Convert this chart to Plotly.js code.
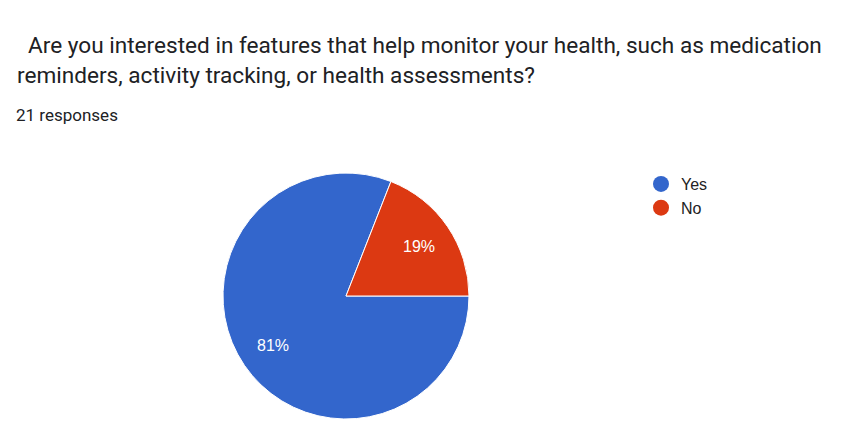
<!DOCTYPE html>
<html>
<head>
<meta charset="utf-8">
<script src="https://cdn.plot.ly/plotly-3.0.1.min.js"></script>
<style>html,body{margin:0;padding:0;background:#fff;}#chart{width:845px;height:427px;}</style>
</head>
<body>
<div id="chart"></div>
<script>
const categories = ["Yes", "No"];
const counts = [17, 4];
const colors = ["#3366CC", "#DC3912"];
const titleLines = ["Are you interested in features that help monitor your health, such as medication", "reminders, activity tracking, or health assessments?"];
const subtitle = "21 responses";

const W = 845, H = 427;
const px = x => x / W;
const py = y => 1 - y / H;

// pie geometry (pixels)
const cx = 346, cy = 296, R = 123;
const startDeg = 90; // first slice starts at 3 o'clock, clockwise

const traces = [{
  type: "pie",
  labels: categories,
  values: counts,
  sort: false,
  direction: "clockwise",
  rotation: startDeg,
  marker: {colors: colors, line: {color: "#ffffff", width: 1}},
  textinfo: "none",
  domain: {x: [px(cx - R), px(cx + R)], y: [py(cy + R), py(cy - R)]},
  showlegend: false,
  hoverinfo: "label+percent"
}];
categories.forEach((c, i) => {
  traces.push({
    type: "scatter", mode: "markers", x: [null], y: [null], name: c,
    legendgroup: c,
    marker: {color: colors[i], size: 16, symbol: "circle"},
    showlegend: true, hoverinfo: "skip"
  });
});

// percentage labels placed from the data (slice mid-angles)
const total = counts.reduce((a, b) => a + b, 0);
const labelAnn = [];
let acc = 0;
counts.forEach((v, i) => {
  const mid = startDeg + 360 * (acc + v / 2) / total;
  acc += v;
  const a = mid * Math.PI / 180;
  const r = 0.72 * R;
  labelAnn.push({
    text: Math.round(100 * v / total) + "%",
    x: px(cx + r * Math.sin(a)), y: py(cy - r * Math.cos(a)),
    xref: "paper", yref: "paper", xanchor: "center", yanchor: "middle", showarrow: false,
    font: {family: "Liberation Sans, Arial, sans-serif", size: 16, color: "#ffffff"}
  });
});

const layout = {
  width: W, height: H,
  margin: {l: 0, r: 0, t: 0, b: 0},
  paper_bgcolor: "#ffffff", plot_bgcolor: "#ffffff",
  xaxis: {visible: false}, yaxis: {visible: false},
  showlegend: true,
  legend: {
    x: px(641), y: py(167), xanchor: "left", yanchor: "top",
    font: {family: "Liberation Sans, Arial, sans-serif", size: 16, color: "#222222"},
    traceorder: "grouped", tracegroupgap: 0, itemwidth: 30
  },
  annotations: [
    {text: titleLines[0], x: px(26), y: py(45), xref: "paper", yref: "paper", xanchor: "left", yanchor: "middle", showarrow: false,
     font: {family: "Roboto, sans-serif", size: 22.6, color: "#202124"}},
    {text: titleLines[1], x: px(15), y: py(76), xref: "paper", yref: "paper", xanchor: "left", yanchor: "middle", showarrow: false,
     font: {family: "Roboto, sans-serif", size: 22.6, color: "#202124"}},
    {text: subtitle, x: px(14), y: py(115), xref: "paper", yref: "paper", xanchor: "left", yanchor: "middle", showarrow: false,
     font: {family: "Roboto, sans-serif", size: 17, color: "#202124"}}
  ].concat(labelAnn)
};

Plotly.newPlot("chart", traces, layout, {displayModeBar: false, staticPlot: true});
</script>
</body>
</html>
